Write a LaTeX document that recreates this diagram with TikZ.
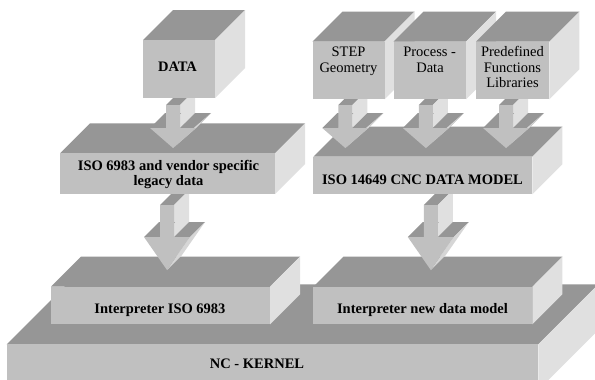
\documentclass[tikz,border=0pt]{standalone}
\usepackage{fontspec}
\setmainfont{Liberation Serif}
\usetikzlibrary{calc}

\definecolor{frontgray}{RGB}{192,192,192}
\definecolor{topgray}{RGB}{150,150,150}
\definecolor{sidegray}{RGB}{224,224,224}
\definecolor{slantgray}{RGB}{214,214,214}

\tikzset{
  lblb/.style={anchor=base, inner sep=0pt, font=\fontsize{14.5}{16}\selectfont\bfseries},
  lblr/.style={anchor=base, inner sep=0pt, font=\fontsize{14.5}{16}\selectfont},
}

% Extruded block: name, left, top, right, bottom (y grows downward), depth
\newcommand\blockbox[6]{%
  \fill[topgray] (#2,#3) -- (#2+#6,#3-#6) -- (#4+#6,#3-#6) -- (#4,#3) -- cycle;
  \fill[sidegray] (#4,#3) -- (#4+#6,#3-#6) -- (#4+#6,#5-#6) -- (#4,#5) -- cycle;
  \fill[frontgray] (#2,#3) rectangle (#4,#5);
  \coordinate (#1) at ({(#2+#4)/2},{(#3+#5)/2});
}

% Extruded downward arrow: name, centre x, shaft top, shoulder, tip
\newcommand\blockarrow[5]{%
  \fill[topgray] (#2-7,#3) -- (#2+7,#3) -- (#2+22,#3-15) -- (#2+8,#3-15) -- cycle;
  \fill[sidegray] (#2+7,#3) -- (#2+7,#4) -- (#2+22,#4-15) -- (#2+22,#3-15) -- cycle;
  \fill[topgray] (#2+7,#4) -- (#2+23,#4) -- (#2+38,#4-15) -- (#2+22,#4-15) -- cycle;
  \fill[slantgray] (#2+23,#4) -- (#2,#5) -- (#2+15,#5-15) -- (#2+38,#4-15) -- cycle;
  \fill[topgray] (#2-23,#4) -- (#2-7,#4) -- (#2+8,#4-15) -- (#2-8,#4-15) -- cycle;
  \fill[frontgray] (#2-7,#3) -- (#2+7,#3) -- (#2+7,#4) -- (#2+23,#4) -- (#2,#5)
                   -- (#2-23,#4) -- (#2-7,#4) -- cycle;
  \coordinate (#1) at (#2,#5);
}

\begin{document}
\begin{tikzpicture}[x=1pt,y=-1pt]
  \useasboundingbox (0,0) rectangle (595,380);
  \fill[white] (0,0) rectangle (595,380);
  \clip (0,0) rectangle (595,380);

  % kernel slab and interpreters
  \blockbox{kernel}{6.7}{344.3}{538.3}{390}{60}
  \blockbox{interpA}{51}{286.7}{270}{324.3}{30}
  \blockbox{interpB}{313.3}{286.7}{532.3}{324.3}{30}

  % arrows into the interpreters
  \blockarrow{arrA}{167}{205}{237}{270}
  \blockarrow{arrB}{430.8}{205}{237}{270}

  % middle layer
  \blockbox{legacy}{60}{153.3}{275}{194}{30}
  \blockbox{model}{313.3}{156.7}{532.3}{194.3}{30}

  % arrows into the middle layer
  \blockarrow{arrData}{173}{105}{128}{148}
  \blockarrow{arrStep}{345.3}{105}{128}{148}
  \blockarrow{arrProc}{425.8}{105}{128}{148}
  \blockarrow{arrLib}{506}{105}{128}{148}

  % top layer
  \blockbox{data}{143}{40}{215}{98}{30}
  \blockbox{step}{312.5}{41.7}{384.5}{99.3}{30}
  \blockbox{proc}{393.5}{41.7}{466}{99.3}{30}
  \blockbox{lib}{476}{41.7}{549.3}{99.3}{30}

  % labels
  \node[lblb] (tData) at (177.5,71.7) {DATA};
  \node[lblr] (tStepA) at (348.5,56.7) {STEP};
  \node[lblr] (tStepB) at (348.5,72.7) {Geometry};
  \node[lblr] (tProcA) at (429.7,56.7) {Process -};
  \node[lblr] (tProcB) at (430,72.7) {Data};
  \node[lblr] (tLibA) at (512.5,56.3) {Predefined};
  \node[lblr] (tLibB) at (512.5,72) {Functions};
  \node[lblr] (tLibC) at (512.5,87.7) {Libraries};
  \node[lblb] (tLegA) at (168.5,170.5) {ISO 6983 and vendor specific};
  \node[lblb] (tLegB) at (168.5,185) {legacy data};
  \node[lblb] (tModel) at (422.5,184) {ISO 14649 CNC DATA MODEL};
  \node[lblb] (tIntA) at (160,313.3) {Interpreter ISO 6983};
  \node[lblb] (tIntB) at (422.5,313.3) {Interpreter new data model};
  \node[lblb] (tKernel) at (257,368.3) {NC - KERNEL};
\end{tikzpicture}
\end{document}
